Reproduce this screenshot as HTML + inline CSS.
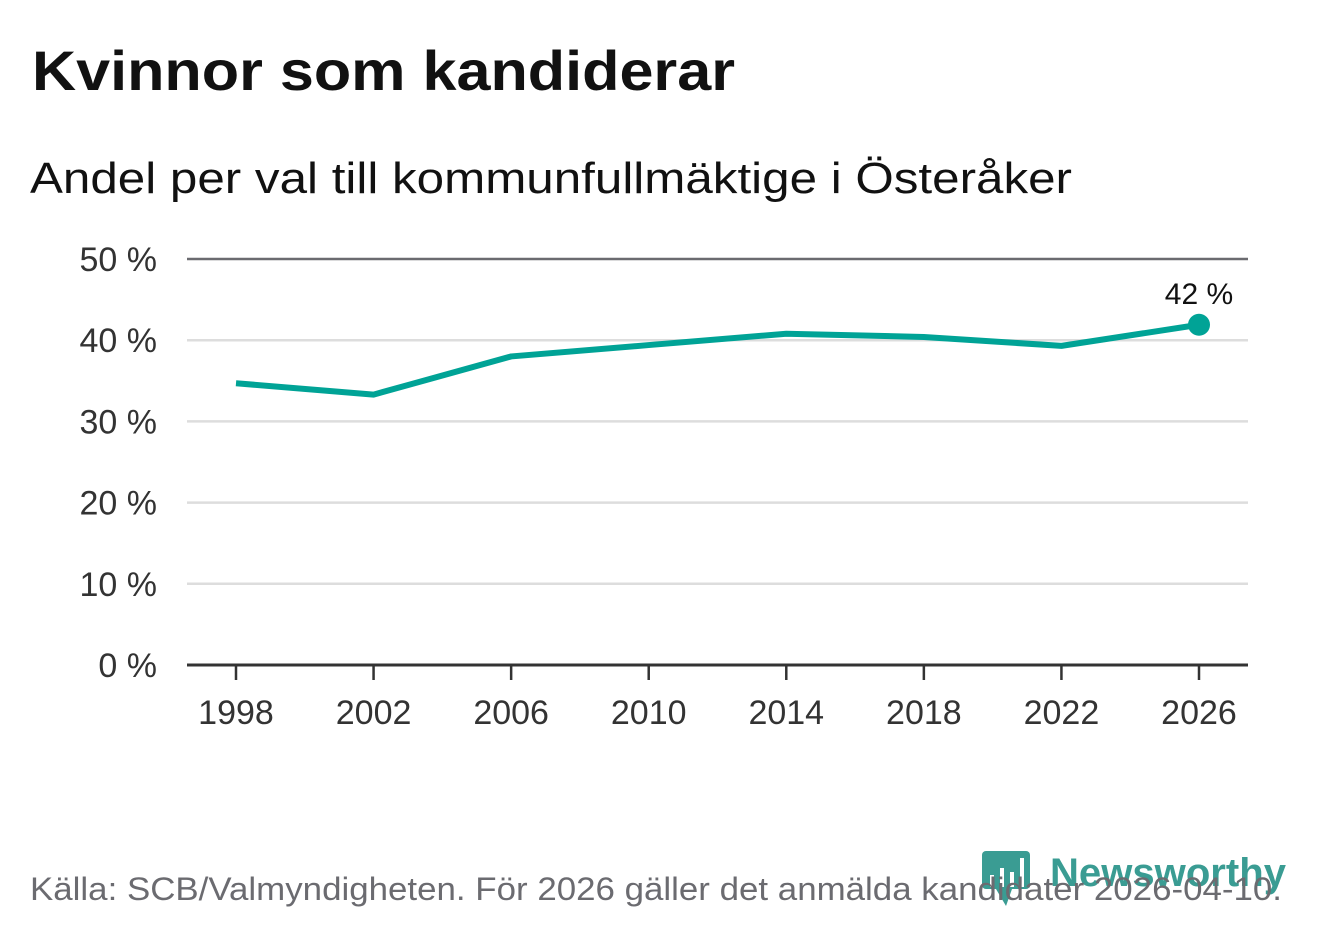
<!DOCTYPE html>
<html><head><meta charset="utf-8">
<style>
body{margin:0;background:#fff;width:1322px;height:939px;overflow:hidden;font-family:"Liberation Sans","DejaVu Sans",sans-serif;}
</style></head>
<body>
<svg width="1322" height="939" xmlns="http://www.w3.org/2000/svg">
<text x="32" y="90" font-size="56" font-weight="bold" fill="#111" textLength="703" lengthAdjust="spacingAndGlyphs">Kvinnor som kandiderar</text>
<text x="30" y="193" font-size="44" fill="#111" textLength="1042" lengthAdjust="spacingAndGlyphs">Andel per val till kommunfullmäktige i Österåker</text>
<g id="grid"></g>
<g id="xaxis"></g>
<g id="series"></g>
<g>
<rect x="982" y="851" width="48" height="38" rx="4" fill="#3a9c93"/>
<polygon points="996,889 1012,889 1006,906" fill="#3a9c93"/>
<rect x="990" y="875" width="4" height="12" fill="#fff"/>
<rect x="1000" y="868" width="4" height="19" fill="#fff"/>
<rect x="1010" y="872" width="4" height="15" fill="#fff"/>
<rect x="1020" y="858" width="4" height="29" fill="#fff"/>
<text x="1050" y="886" font-size="40" font-weight="bold" fill="#3a9c93" textLength="236" lengthAdjust="spacingAndGlyphs">Newsworthy</text>
</g>
<text x="30" y="900" font-size="32" fill="#6b6b70" textLength="1252" lengthAdjust="spacingAndGlyphs">Källa: SCB/Valmyndigheten. För 2026 gäller det anmälda kandidater 2026-04-10.</text>
</svg>
<script>
const years = [1998, 2002, 2006, 2010, 2014, 2018, 2022, 2026];
const shares = [34.7, 33.3, 38.0, 39.4, 40.8, 40.4, 39.3, 41.9];
const yTicks = [0, 10, 20, 30, 40, 50];
const lastLabel = "42 %";
const NS = "http://www.w3.org/2000/svg";
const x = v => 236 + (v - 1998) * (1199 - 236) / 28;
const y = v => 665 - v * (665 - 259) / 50;
function mk(tag, attrs, parent, text){const e=document.createElementNS(NS,tag);for(const k in attrs)e.setAttribute(k,attrs[k]);if(text!==undefined)e.textContent=text;parent.appendChild(e);return e;}
const grid=document.getElementById('grid');
yTicks.forEach(t=>{
  const l=mk('line',{x1:187,x2:1248,y1:y(t),y2:y(t),stroke:t===0?'#333':(t===50?'#6b6b70':'#ddd'),'stroke-width':t===0?3:2.5},grid);
  
  
  const tx=mk('text',{x:157,y:y(t)+12,'text-anchor':'end','font-size':34,fill:'#333'},grid,t+' %');
  
  
});
const xa=document.getElementById('xaxis');
years.forEach(yr=>{
  const l=mk('line',{x1:x(yr),x2:x(yr),y1:665,y2:680,stroke:'#333','stroke-width':2.5},xa);
  
  
  const t=mk('text',{x:x(yr),y:724,'text-anchor':'middle','font-size':34,fill:'#333'},xa,String(yr));
  
  
});
const s=document.getElementById('series');
const p=mk('polyline',{points:years.map((yr,i)=>x(yr)+','+y(shares[i])).join(' '),fill:'none',stroke:'#00a396','stroke-width':6,'stroke-linejoin':'round'},s);


const n=years.length-1;
const c=mk('circle',{cx:x(years[n]),cy:y(shares[n]),r:11,fill:'#00a396'},s);


const lb=mk('text',{x:x(years[n]),y:y(shares[n])-21,'text-anchor':'middle','font-size':30,fill:'#111'},s,lastLabel);


</script>
</body></html>
